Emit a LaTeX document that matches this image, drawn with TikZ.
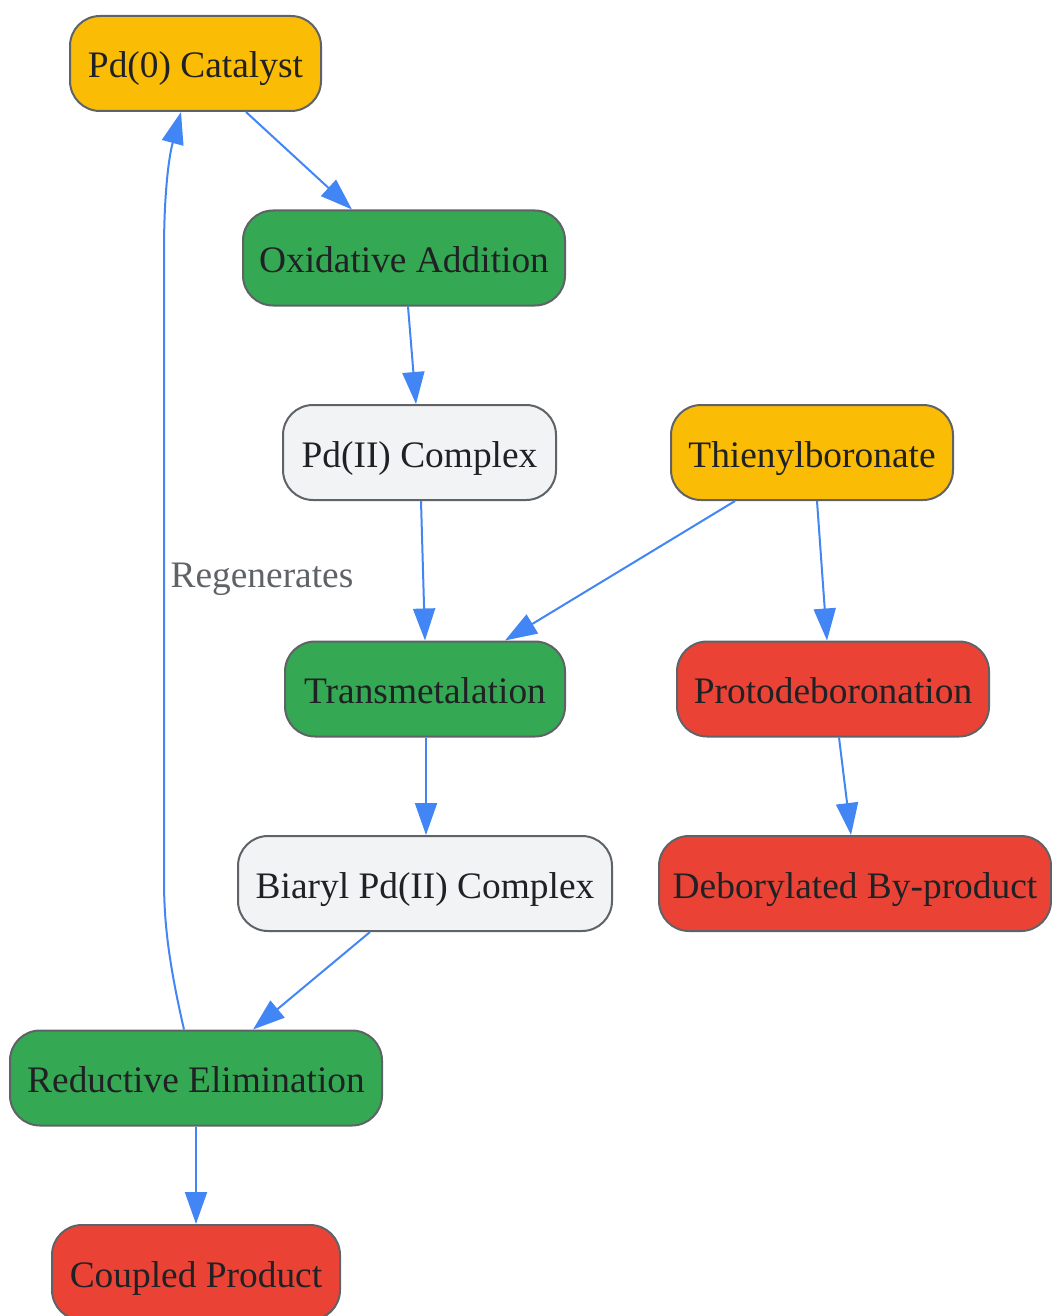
\documentclass[tikz,border=0pt]{standalone}
\usepackage{fontspec}
\setmainfont{Liberation Serif}
\usepackage{xcolor}
\usepackage{tikz}
\usetikzlibrary{calc}
\usetikzlibrary{shapes,arrows.meta,positioning}
\definecolor{gyellow}{HTML}{FBBC05}
\definecolor{ggreen}{HTML}{34A853}
\definecolor{gred}{HTML}{EA4335}
\definecolor{glight}{HTML}{F1F3F4}
\definecolor{gborder}{HTML}{5F6368}
\definecolor{gblue}{HTML}{4285F4}
\definecolor{gtext}{HTML}{202124}
\begin{document}
\begin{tikzpicture}[x=0.5pt,y=-0.5pt,
	lbl/.style={inner sep=0pt,text height=18pt,text depth=3.5pt,font=\fontsize{18.7}{22}\selectfont},
	box/.style={lbl,draw=gborder,line width=1pt,rounded corners=15pt,minimum height=47.5pt,text=gtext},
	flow/.style={gblue,line width=1pt,-{Triangle[length=16pt,width=11pt]}}]
	\useasboundingbox (0,0) rectangle (1052,1316);
	\node[box,fill=gyellow,minimum width=125.5pt] (cat) at (195.5,63.5) {Pd(0) Catalyst};
	\node[box,fill=ggreen,minimum width=161pt] (oxa) at (404,258) {Oxidative Addition};
	\node[box,fill=glight,minimum width=136.5pt] (pdii) at (419.5,452.5) {Pd(II) Complex};
	\node[box,fill=gyellow,minimum width=141pt] (thi) at (812,452.5) {Thienylboronate};
	\node[box,fill=ggreen,minimum width=140pt] (trans) at (425,689) {Transmetalation};
	\node[box,fill=gred,minimum width=156pt] (proto) at (833,689) {Protodeboronation};
	\node[box,fill=glight,minimum width=187pt] (biaryl) at (425,883.5) {Biaryl Pd(II) Complex};
	\node[box,fill=gred,minimum width=196pt] (debor) at (855,883.5) {Deborylated By-product};
	\node[box,fill=ggreen,minimum width=186pt] (redel) at (196,1078) {Reductive Elimination};
	\node[box,fill=gred,minimum width=144pt] (coup) at (196,1272.5) {Coupled Product};
	\draw[flow] ($(cat.south)+(50.5,0)$) -- ($(oxa.north)+(-52,0)$);
	\draw[flow] ($(oxa.south)+(4,0)$) -- ($(pdii.north)+(-3.5,0)$);
	\draw[flow] ($(pdii.south)+(1.5,0)$) -- (trans.north);
	\draw[flow] ($(thi.south)+(-77,0)$) -- ($(trans.north)+(80,0)$);
	\draw[flow] ($(thi.south)+(5,0)$) -- ($(proto.north)+(-6,0)$);
	\draw[flow] ($(trans.south)+(1,0)$) -- ($(biaryl.north)+(1,0)$);
	\draw[flow] ($(proto.south)+(6,0)$) -- ($(debor.north)+(-4,0)$);
	\draw[flow] ($(biaryl.south)+(-55,0)$) -- ($(redel.north)+(57,0)$);
	\draw[flow] (redel.south) -- (coup.north);
	\coordinate (rlow) at (164,880);
	\coordinate (rhigh) at (164,250);
	\draw[flow] ($(redel.north)+(-12,0)$) .. controls (168,960) and (164,920) .. (rlow) -- (rhigh) .. controls (164,200) and (168,160) .. ($(cat.south)+(-14.5,0)$);
	\node[lbl,text=gborder] (regen) at (262,573) {Regenerates};
\end{tikzpicture}
\end{document}
